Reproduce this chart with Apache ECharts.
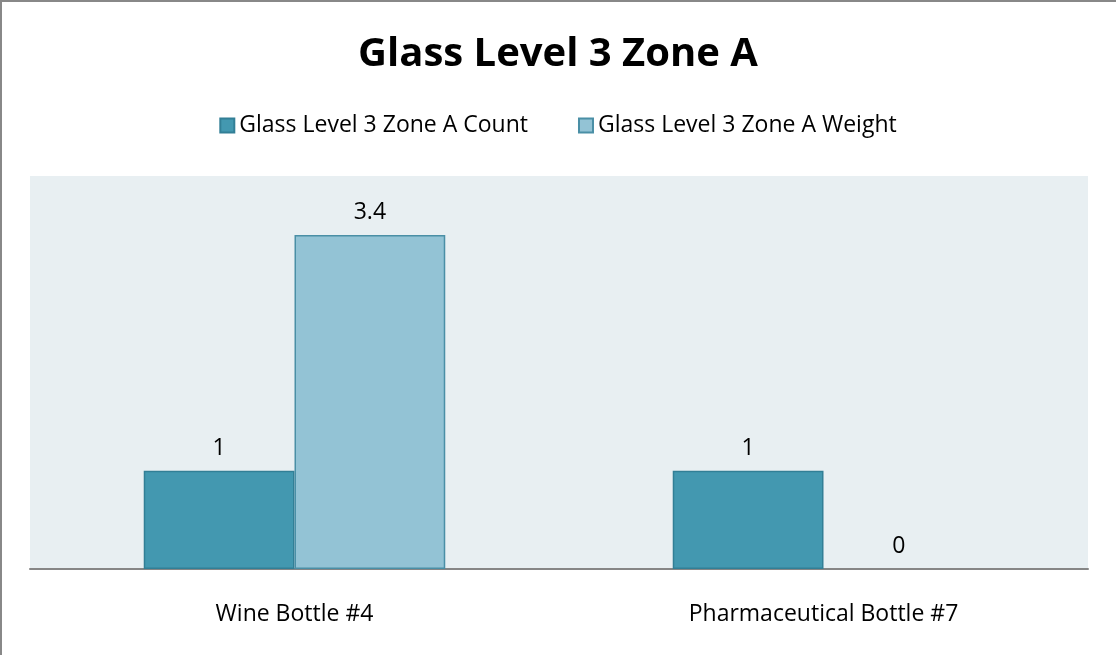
<!DOCTYPE html>
<html>
<head>
<meta charset="utf-8">
<script src="https://cdn.jsdelivr.net/npm/echarts@6/dist/echarts.min.js"></script>
<style>
  html, body { margin: 0; padding: 0; background: #fff; }
  #chart { width: 1116px; height: 655px; }
</style>
</head>
<body>
<div id="chart"></div>
<script>
const categories = ["Wine Bottle #4", "Pharmaceutical Bottle #7"];
const countValues = [1, 1];
const weightValues = [3.4, 0];
const seriesNames = ["Glass Level 3 Zone A Count", "Glass Level 3 Zone A Weight"];

const font = "'Open Sans', 'Noto Sans', sans-serif";
const chart = echarts.init(document.getElementById("chart"));

const labelStyle = {
  show: true,
  position: "top",
  distance: 11,
  color: "#000",
  fontSize: 23,
  fontFamily: font
};

// zero-height bars should not leave a stroke on the axis
function toBarData(values) {
  return values.map(function (v) {
    return v === 0 ? { value: v, itemStyle: { borderWidth: 0 } } : v;
  });
}

chart.setOption({
  animation: false,
  backgroundColor: "#fff",
  title: {
    text: "Glass Level 3 Zone A",
    left: "center",
    top: 30,
    textStyle: { fontSize: 40, fontWeight: "bold", color: "#000", fontFamily: font }
  },
  legend: {
    top: 109,
    left: "center",
    itemGap: 50,
    itemWidth: 14,
    itemHeight: 14,
    icon: "rect",
    textStyle: { fontSize: 23, color: "#000", fontFamily: font },
    data: seriesNames
  },
  grid: {
    left: 30,
    right: 28,
    top: 176,
    bottom: 86,
    show: true,
    backgroundColor: "#E8EFF2",
    borderWidth: 0
  },
  xAxis: {
    type: "category",
    data: categories,
    axisLine: { lineStyle: { color: "#868686", width: 2 } },
    axisTick: { show: false },
    axisLabel: { color: "#000", fontSize: 23, fontFamily: font, margin: 34 }
  },
  yAxis: {
    type: "value",
    min: 0,
    max: 4,
    show: false,
    splitLine: { show: false }
  },
  graphic: [
    {
      type: "polyline",
      shape: { points: [[1, 655], [1, 1], [1116, 1]] },
      style: { stroke: "#888", lineWidth: 2, fill: null }
    }
  ],
  series: [
    {
      name: seriesNames[0],
      type: "bar",
      data: toBarData(countValues),
      barGap: "0%",
      barCategoryGap: "43%",
      itemStyle: { color: "#4398B0", borderColor: "#327F96", borderWidth: 1.5 },
      label: labelStyle
    },
    {
      name: seriesNames[1],
      type: "bar",
      data: toBarData(weightValues),
      itemStyle: { color: "#93C3D5", borderColor: "#4A8FA6", borderWidth: 1.5 },
      label: labelStyle
    }
  ]
});
</script>
</body>
</html>
